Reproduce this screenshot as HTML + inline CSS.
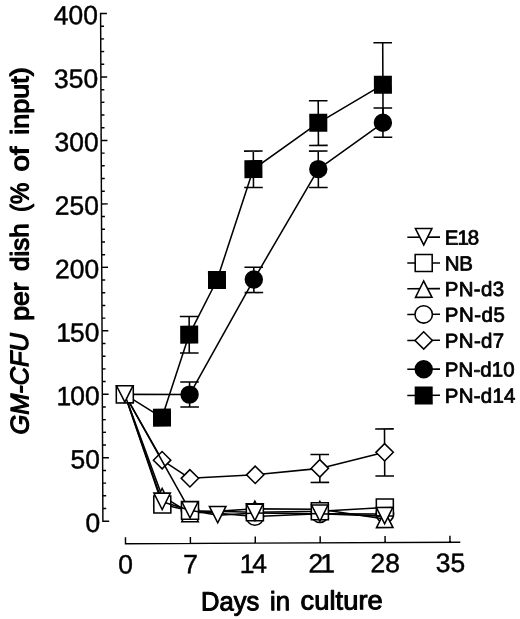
<!DOCTYPE html>
<html lang="en">
<head>
<meta charset="utf-8">
<title>GM-CFU per dish vs. days in culture</title>
<style>
html, body { margin: 0; padding: 0; background: #fff; }
body { width: 520px; height: 619px; overflow: hidden; }
svg { display: block; will-change: transform; }
text { font-family: "Liberation Sans", sans-serif; fill: #000; }
.num { font-size: 26.5px; stroke: #000; stroke-width: 0.45px; }
.xt { font-size: 26.5px; stroke: #000; stroke-width: 1.0px; stroke-linejoin: round; }
.yt { font-size: 25.5px; stroke: #000; stroke-width: 1.2px; stroke-linejoin: round; }
.lg { font-size: 20.5px; stroke: #000; stroke-width: 0.75px; stroke-linejoin: round; }
</style>
</head>
<body>
<svg width="520" height="619" viewBox="0 0 520 619">
<rect width="520" height="619" fill="#fff"/>
<g id="chart" transform="rotate(-0.26 102.9 521.2)">
<g id="axes">
<path d="M109.20 13.52H102.90V521.20H109.20M102.90 508.51h3.4M102.90 495.82h3.4M102.90 483.12h3.4M102.90 470.43h3.4M102.90 457.74h6.3M102.90 445.05h3.4M102.90 432.36h3.4M102.90 419.66h3.4M102.90 406.97h3.4M102.90 394.28h6.3M102.90 381.59h3.4M102.90 368.90h3.4M102.90 356.20h3.4M102.90 343.51h3.4M102.90 330.82h6.3M102.90 318.13h3.4M102.90 305.44h3.4M102.90 292.74h3.4M102.90 280.05h3.4M102.90 267.36h6.3M102.90 254.67h3.4M102.90 241.98h3.4M102.90 229.28h3.4M102.90 216.59h3.4M102.90 203.90h6.3M102.90 191.21h3.4M102.90 178.52h3.4M102.90 165.82h3.4M102.90 153.13h3.4M102.90 140.44h6.3M102.90 127.75h3.4M102.90 115.06h3.4M102.90 102.36h3.4M102.90 89.67h3.4M102.90 76.98h6.3M102.90 64.29h3.4M102.90 51.60h3.4M102.90 38.90h3.4M102.90 26.21h3.4" fill="none" stroke="#000" stroke-width="1.45" stroke-linejoin="miter"/>
<path d="M125.40 537.30V543.80H460.2M190.30 543.80v-6.5M255.19 543.80v-6.5M320.09 543.80v-6.5M384.99 543.80v-6.5M449.88 543.80v-6.5" fill="none" stroke="#000" stroke-width="1.45"/>
<text x="100.3" y="531.90" text-anchor="end" class="num">0</text>
<text x="100.3" y="468.44" text-anchor="end" class="num">50</text>
<text x="100.3" y="404.98" text-anchor="end" class="num">00</text>
<text x="71.72" y="404.98" text-anchor="end" class="num">1</text>
<text x="100.3" y="341.52" text-anchor="end" class="num">50</text>
<text x="71.72" y="341.52" text-anchor="end" class="num">1</text>
<text x="100.3" y="278.06" text-anchor="end" class="num">200</text>
<text x="100.3" y="214.60" text-anchor="end" class="num">250</text>
<text x="100.3" y="151.14" text-anchor="end" class="num">300</text>
<text x="100.3" y="87.68" text-anchor="end" class="num">350</text>
<text x="100.3" y="24.22" text-anchor="end" class="num">400</text>
<text x="125.40" y="573.5" text-anchor="middle" class="num">0</text>
<text x="190.30" y="573.5" text-anchor="middle" class="num">7</text>
<text x="384.99" y="573.5" text-anchor="middle" class="num">28</text>
<text x="450.28" y="573.5" text-anchor="middle" class="num">35</text>
<text x="239.40" y="573.5" class="num">1</text>
<text x="252.00" y="573.5" class="num">4</text>
<text x="308.20" y="573.5" class="num">2</text>
<text x="319.90" y="573.5" class="num">1</text>
</g>
<g id="series">
<g id="s-d14">
<path d="M125.38 394.50L162.47 417.87L190.05 334.99L218.09 280.52L255.00 169.79L320.11 123.78L384.88 85.98" fill="none" stroke="#000" stroke-width="1.55" stroke-linejoin="round"/>
<path d="M190.05 316.89V353.39M180.75 316.89h18.6M180.75 353.39h18.6" fill="none" stroke="#000" stroke-width="1.55"/>
<path d="M255.00 151.79V188.19M245.70 151.79h18.6M245.70 188.19h18.6" fill="none" stroke="#000" stroke-width="1.55"/>
<path d="M320.11 101.78V146.38M310.81 101.78h18.6M310.81 146.38h18.6" fill="none" stroke="#000" stroke-width="1.55"/>
<path d="M384.88 44.08V121.27M375.58 44.08h18.6" fill="none" stroke="#000" stroke-width="1.55"/>
<rect x="153.47" y="408.87" width="18" height="18" fill="#000"/>
<rect x="181.05" y="325.99" width="18" height="18" fill="#000"/>
<rect x="209.09" y="271.52" width="18" height="18" fill="#000"/>
<rect x="246.00" y="160.79" width="18" height="18" fill="#000"/>
<rect x="311.11" y="114.78" width="18" height="18" fill="#000"/>
<rect x="375.88" y="76.98" width="18" height="18" fill="#000"/>
</g>
<g id="s-d10">
<path d="M125.38 394.50L190.17 394.99L254.90 280.19L319.90 170.08L384.70 124.07" fill="none" stroke="#000" stroke-width="1.55" stroke-linejoin="round"/>
<path d="M190.17 382.39V407.39M180.87 382.39h18.6M180.87 407.39h18.6" fill="none" stroke="#000" stroke-width="1.55"/>
<path d="M254.90 267.99V293.29M245.60 267.99h18.6M245.60 293.29h18.6" fill="none" stroke="#000" stroke-width="1.55"/>
<path d="M319.90 152.08V188.48M310.60 152.08h18.6M310.60 188.48h18.6" fill="none" stroke="#000" stroke-width="1.55"/>
<path d="M384.70 109.27V138.57M375.40 109.27h18.6M375.40 138.57h18.6" fill="none" stroke="#000" stroke-width="1.55"/>
<circle cx="190.17" cy="394.99" r="9.2" fill="#000"/>
<circle cx="254.90" cy="280.19" r="9.2" fill="#000"/>
<circle cx="319.90" cy="170.08" r="9.2" fill="#000"/>
<circle cx="384.70" cy="124.07" r="9.2" fill="#000"/>
</g>
<g id="s-d7">
<path d="M125.38 394.50L162.38 460.47L190.09 478.70L255.41 475.49L320.04 469.38L384.91 453.58" fill="none" stroke="#000" stroke-width="1.55" stroke-linejoin="round"/>
<path d="M320.04 455.48V483.38M310.74 455.48h18.6M310.74 483.38h18.6" fill="none" stroke="#000" stroke-width="1.55"/>
<path d="M384.91 430.18V477.28M375.61 430.18h18.6M375.61 477.28h18.6" fill="none" stroke="#000" stroke-width="1.55"/>
<path d="M153.68 460.47L162.38 451.77L171.08 460.47L162.38 469.17Z" fill="#fff" stroke="#000" stroke-width="1.55"/>
<path d="M181.39 478.70L190.09 470.00L198.79 478.70L190.09 487.40Z" fill="#fff" stroke="#000" stroke-width="1.55"/>
<path d="M246.71 475.49L255.41 466.79L264.11 475.49L255.41 484.19Z" fill="#fff" stroke="#000" stroke-width="1.55"/>
<path d="M311.34 469.38L320.04 460.68L328.74 469.38L320.04 478.08Z" fill="#fff" stroke="#000" stroke-width="1.55"/>
<path d="M376.21 453.58L384.91 444.88L393.61 453.58L384.91 462.28Z" fill="#fff" stroke="#000" stroke-width="1.55"/>
</g>
<g id="s-d5">
<path d="M125.38 394.50L190.05 511.20L254.92 517.29L319.93 514.78L384.93 515.28" fill="none" stroke="#000" stroke-width="1.55" stroke-linejoin="round"/>
<circle cx="190.05" cy="511.20" r="8.70" fill="#fff" stroke="#000" stroke-width="1.55"/>
<circle cx="254.92" cy="517.29" r="8.70" fill="#fff" stroke="#000" stroke-width="1.55"/>
<circle cx="319.93" cy="514.78" r="8.70" fill="#fff" stroke="#000" stroke-width="1.55"/>
<circle cx="384.93" cy="515.28" r="8.70" fill="#fff" stroke="#000" stroke-width="1.55"/>
</g>
<g id="s-d3">
<path d="M125.38 394.50L162.26 496.47L190.04 513.50L254.95 509.54L319.95 510.23L384.71 520.28" fill="none" stroke="#000" stroke-width="1.55" stroke-linejoin="round"/>
<path d="M154.01 505.07H170.51L162.26 488.77Z" fill="#fff" stroke="#000" stroke-width="1.55"/>
<path d="M181.79 522.10H198.29L190.04 505.80Z" fill="#fff" stroke="#000" stroke-width="1.55"/>
<path d="M246.70 518.14H263.20L254.95 501.84Z" fill="#fff" stroke="#000" stroke-width="1.55"/>
<path d="M311.70 518.83H328.20L319.95 502.53Z" fill="#fff" stroke="#000" stroke-width="1.55"/>
<path d="M376.46 528.88H392.96L384.71 512.58Z" fill="#fff" stroke="#000" stroke-width="1.55"/>
</g>
<g id="s-nb">
<path d="M125.38 394.50L162.38 504.77L190.05 511.20L254.89 512.99L319.89 512.28L384.91 508.78" fill="none" stroke="#000" stroke-width="1.55" stroke-linejoin="round"/>
<rect x="116.88" y="386.00" width="17.00" height="17.00" fill="#fff" stroke="#000" stroke-width="1.55"/>
<rect x="153.88" y="496.27" width="17.00" height="17.00" fill="#fff" stroke="#000" stroke-width="1.55"/>
<rect x="181.55" y="502.70" width="17.00" height="17.00" fill="#fff" stroke="#000" stroke-width="1.55"/>
<rect x="246.39" y="504.49" width="17.00" height="17.00" fill="#fff" stroke="#000" stroke-width="1.55"/>
<rect x="311.39" y="503.78" width="17.00" height="17.00" fill="#fff" stroke="#000" stroke-width="1.55"/>
<rect x="376.41" y="500.28" width="17.00" height="17.00" fill="#fff" stroke="#000" stroke-width="1.55"/>
</g>
<g id="s-e18">
<path d="M125.38 394.50L162.24 502.07L190.05 510.70L217.73 515.72L254.89 513.59L319.88 514.68L384.62 517.38" fill="none" stroke="#000" stroke-width="1.55" stroke-linejoin="round"/>
<path d="M117.13 385.80H133.63L125.38 402.20Z" fill="#fff" stroke="#000" stroke-width="1.55"/>
<path d="M153.99 493.37H170.49L162.24 509.77Z" fill="#fff" stroke="#000" stroke-width="1.55"/>
<path d="M181.80 502.00H198.30L190.05 518.40Z" fill="#fff" stroke="#000" stroke-width="1.55"/>
<path d="M209.48 507.02H225.98L217.73 523.42Z" fill="#fff" stroke="#000" stroke-width="1.55"/>
<path d="M246.64 504.89H263.14L254.89 521.29Z" fill="#fff" stroke="#000" stroke-width="1.55"/>
<path d="M311.63 505.98H328.13L319.88 522.38Z" fill="#fff" stroke="#000" stroke-width="1.55"/>
<path d="M376.37 508.68H392.87L384.62 525.08Z" fill="#fff" stroke="#000" stroke-width="1.55"/>
</g>
</g>
<g id="legend">
<path d="M408.59 238.68H441.29" stroke="#000" stroke-width="1.55"/>
<path d="M416.74 229.98H433.24L424.99 246.38Z" fill="#fff" stroke="#000" stroke-width="1.55"/>
<text class="lg" x="445.99" y="246.28" textLength="34.45" lengthAdjust="spacing">E18</text>
<path d="M408.47 264.48H441.17" stroke="#000" stroke-width="1.55"/>
<rect x="416.37" y="255.98" width="17.00" height="17.00" fill="#fff" stroke="#000" stroke-width="1.55"/>
<text class="lg" x="445.87" y="272.08" textLength="28.20" lengthAdjust="spacing">NB</text>
<path d="M408.35 290.18H441.05" stroke="#000" stroke-width="1.55"/>
<path d="M416.50 298.78H433.00L424.75 282.48Z" fill="#fff" stroke="#000" stroke-width="1.55"/>
<text class="lg" x="445.75" y="297.78" textLength="59.45" lengthAdjust="spacing">PN-d3</text>
<path d="M408.23 315.88H440.93" stroke="#000" stroke-width="1.55"/>
<circle cx="424.63" cy="315.88" r="8.70" fill="#fff" stroke="#000" stroke-width="1.55"/>
<text class="lg" x="445.63" y="323.48" textLength="60.20" lengthAdjust="spacing">PN-d5</text>
<path d="M408.12 341.88H440.82" stroke="#000" stroke-width="1.55"/>
<path d="M415.82 341.88L424.52 333.18L433.22 341.88L424.52 350.58Z" fill="#fff" stroke="#000" stroke-width="1.55"/>
<text class="lg" x="445.52" y="349.48" textLength="59.45" lengthAdjust="spacing">PN-d7</text>
<path d="M407.99 370.68H440.69" stroke="#000" stroke-width="1.55"/>
<circle cx="424.39" cy="370.68" r="9.2" fill="#000"/>
<text class="lg" x="445.39" y="378.28" textLength="69.95" lengthAdjust="spacing">PN-d10</text>
<path d="M407.87 396.88H440.57" stroke="#000" stroke-width="1.55"/>
<rect x="415.27" y="387.88" width="18" height="18" fill="#000"/>
<text class="lg" x="445.27" y="404.48" textLength="70.70" lengthAdjust="spacing">PN-d14</text>
</g>
<g id="titles">
<text class="xt" x="200.49" y="610.94" textLength="58.50" lengthAdjust="spacingAndGlyphs">Days</text>
<text class="xt" x="269.69" y="611.06" textLength="20.10" lengthAdjust="spacingAndGlyphs">in</text>
<text class="xt" x="300.20" y="610.50" textLength="82.20" lengthAdjust="spacingAndGlyphs">culture</text>
<text class="yt" font-style="italic" transform="translate(28.89 434.26) rotate(-90)" textLength="101.50" lengthAdjust="spacingAndGlyphs">GM-CFU</text>
<text class="yt" transform="translate(29.41 320.36) rotate(-90)" textLength="38.40" lengthAdjust="spacingAndGlyphs">per</text>
<text class="yt" transform="translate(29.64 270.56) rotate(-90)" textLength="47.70" lengthAdjust="spacingAndGlyphs">dish</text>
<text class="yt" transform="translate(29.90 211.77) rotate(-90)" textLength="29.40" lengthAdjust="spacingAndGlyphs">(%</text>
<text class="yt" transform="translate(30.09 171.17) rotate(-90)" textLength="24.80" lengthAdjust="spacingAndGlyphs">of</text>
<text class="yt" transform="translate(30.25 134.37) rotate(-90)" textLength="67.50" lengthAdjust="spacingAndGlyphs">input)</text>
</g>
</g>
</svg>
</body>
</html>
